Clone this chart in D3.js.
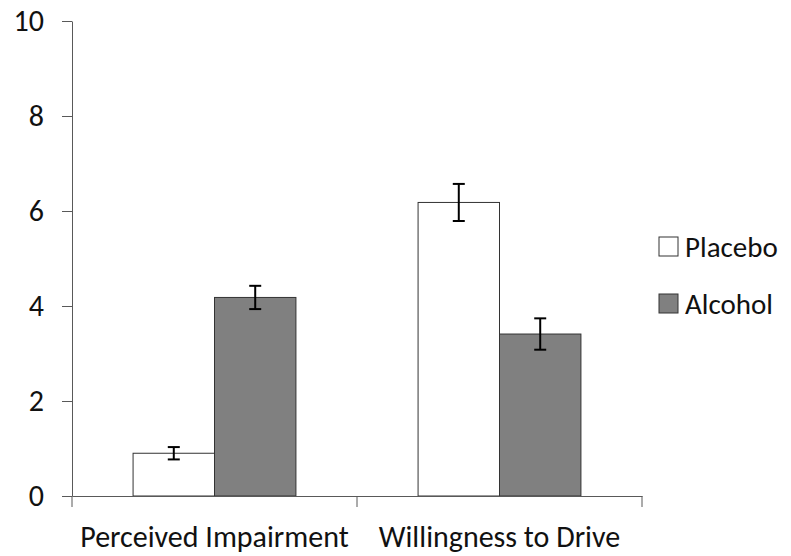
<!DOCTYPE html>
<html><head><meta charset="utf-8">
<script src="https://cdn.jsdelivr.net/npm/d3@7"></script>
<style>body{margin:0;background:#fff}svg{display:block}text{font-family:Carlito,Calibri,Lato,"Open Sans",sans-serif;fill:#111}</style>
</head><body><svg id="c" width="791" height="556"></svg>
<script>
const categories = ["Perceived Impairment", "Willingness to Drive"];
const seriesNames = ["Placebo", "Alcohol"];
const placeboValues = [0.90, 6.18];
const alcoholValues = [4.18, 3.41];
const placeboErrors = [0.13, 0.39];
const alcoholErrors = [0.245, 0.33];
const yTicks = [0, 2, 4, 6, 8, 10];
const colors = ["#ffffff", "#808080"];

const svg = d3.select("#c");
const m = {l: 72, r: 149, t: 21, b: 60};
const W = 791, H = 556;
const x = d3.scaleBand().domain(categories).range([m.l, W - m.r]).paddingInner(0).paddingOuter(0);
const xs = d3.scaleBand().domain(seriesNames).range([0, x.bandwidth()]).paddingInner(0).paddingOuter(0.75);
const y = d3.scaleLinear().domain([0, 10]).range([H - m.b, m.t]);

const data = categories.map((c, i) => ({c, vals: [
  {s: seriesNames[0], v: placeboValues[i], e: placeboErrors[i]},
  {s: seriesNames[1], v: alcoholValues[i], e: alcoholErrors[i]}]}));

const g = svg.append("g");
const groups = g.selectAll("g.grp").data(data).enter().append("g").attr("transform", d => `translate(${x(d.c)},0)`);
groups.selectAll("rect").data(d => d.vals).enter().append("rect")
  .attr("x", d => xs(d.s)).attr("width", xs.bandwidth())
  .attr("y", d => y(d.v)).attr("height", d => y(0) - y(d.v))
  .attr("fill", (d, i) => colors[i]).attr("stroke", "#333").attr("stroke-width", 1);
const eb = groups.selectAll("g.eb").data(d => d.vals).enter().append("g")
  .attr("stroke", "#000").attr("stroke-width", 2);
eb.append("line").attr("x1", d => xs(d.s) + xs.bandwidth() / 2).attr("x2", d => xs(d.s) + xs.bandwidth() / 2)
  .attr("y1", d => y(d.v + d.e)).attr("y2", d => y(d.v - d.e));
eb.append("line").attr("x1", d => xs(d.s) + xs.bandwidth() / 2 - 6).attr("x2", d => xs(d.s) + xs.bandwidth() / 2 + 6)
  .attr("y1", d => y(d.v + d.e)).attr("y2", d => y(d.v + d.e));
eb.append("line").attr("x1", d => xs(d.s) + xs.bandwidth() / 2 - 6).attr("x2", d => xs(d.s) + xs.bandwidth() / 2 + 6)
  .attr("y1", d => y(d.v - d.e)).attr("y2", d => y(d.v - d.e));

// y axis
const ya = svg.append("g").attr("transform", `translate(${m.l},0)`)
  .call(d3.axisLeft(y).tickValues(yTicks).tickSize(10).tickSizeOuter(0).tickPadding(18));
ya.select(".domain").attr("stroke", "#595959");
ya.selectAll(".tick line").attr("stroke", "#595959");
ya.selectAll(".tick text").attr("font-size", 30).attr("fill", "#111").attr("font-family", null);

// x axis
const xa = svg.append("g").attr("transform", `translate(0,${y(0)})`)
  .call(d3.axisBottom(x).tickSize(0));
xa.select(".domain").attr("stroke", "#595959");
xa.selectAll(".tick text").attr("font-size", 30).attr("fill", "#111").attr("font-family", null)
  .attr("dy", null).attr("y", 51);
const bounds = [m.l, ...categories.map(c => x(c) + x.bandwidth())];
xa.selectAll("line.sep").data(bounds).enter().append("line").attr("class", "sep")
  .attr("x1", d => d).attr("x2", d => d).attr("y1", 0).attr("y2", 11).attr("stroke", "#595959");

// legend
const lg = svg.append("g").attr("transform", "translate(659,237)");
const li = lg.selectAll("g").data(seriesNames).enter().append("g").attr("transform", (d, i) => `translate(0,${i * 57})`);
li.append("rect").attr("width", 19).attr("height", 19).attr("fill", (d, i) => colors[i]).attr("stroke", "#333");
li.append("text").attr("x", 26).attr("y", 10).attr("dy", "0.35em").attr("font-size", 29).text(d => d);
</script></body></html>
